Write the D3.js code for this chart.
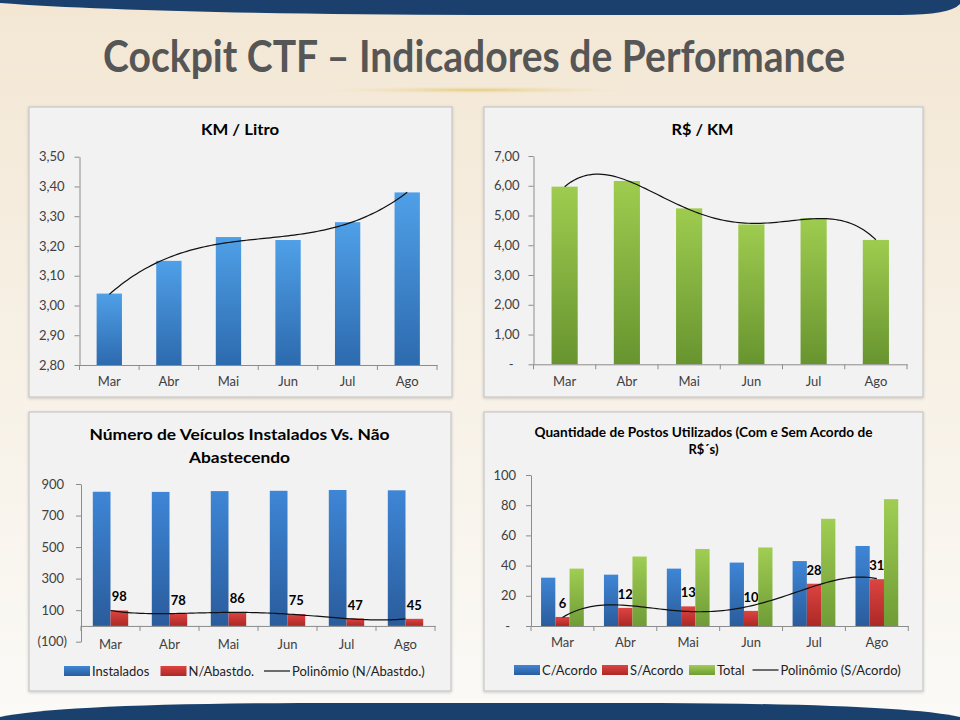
<!DOCTYPE html>
<html><head><meta charset="utf-8">
<script src="https://cdn.jsdelivr.net/npm/d3@7"></script>
<style>html,body{margin:0;padding:0;background:#f6efe2;} svg{display:block;} text{font-family:Lato,"Liberation Sans",sans-serif;}</style>
</head><body><svg id="c" width="960" height="720"></svg>
<script>
// ---------- DATA ----------
const months = ["Mar", "Abr", "Mai", "Jun", "Jul", "Ago"];
const kmLitro = [3.04, 3.15, 3.23, 3.22, 3.28, 3.38];
const rsKm = [5.97, 6.16, 5.24, 4.70, 4.91, 4.18];
const instalados = [851, 850, 855, 857, 862, 860];
const naoAbast = [98, 78, 86, 75, 47, 45];
const cAcordo = [32, 34, 38, 42, 43, 53];
const sAcordo = [6, 12, 13, 10, 28, 31];
const totalPostos = [38, 46, 51, 52, 71, 84];
const kmTicks = [2.8, 2.9, 3.0, 3.1, 3.2, 3.3, 3.4, 3.5];
const rsTicks = [0, 1, 2, 3, 4, 5, 6, 7];
const vehTicks = [-100, 100, 300, 500, 700, 900];
const postoTicks = [0, 20, 40, 60, 80, 100];

// ---------- SETUP ----------
const svg = d3.select("#c");
const defs = svg.append("defs");
function vgrad(id, top, bottom) {
  const g = defs.append("linearGradient").attr("id", id).attr("x1", 0).attr("y1", 0).attr("x2", 0).attr("y2", 1);
  g.append("stop").attr("offset", "0%").attr("stop-color", top);
  g.append("stop").attr("offset", "100%").attr("stop-color", bottom);
}
vgrad("bgG", "#f3e7d4", "#fbfaf7");
vgrad("blueA", "#4fa0e8", "#2d6aae");
vgrad("greenA", "#9ecc4f", "#68942f");
vgrad("blueB", "#3e86d6", "#2a5c9c");
vgrad("redB", "#dc4441", "#ad2826");
vgrad("greenB", "#a0cd52", "#6f9c36");
vgrad("navy", "#21507f", "#183a63");
const rg = defs.append("radialGradient").attr("id", "glow").attr("cx", "50%").attr("cy", "50%").attr("r", "50%");
rg.append("stop").attr("offset", "0%").attr("stop-color", "#e3c96f").attr("stop-opacity", 0.9);
rg.append("stop").attr("offset", "100%").attr("stop-color", "#f3e7d4").attr("stop-opacity", 0);
const sh = defs.append("filter").attr("id", "shadow").attr("x", "-5%").attr("y", "-5%").attr("width", "110%").attr("height", "110%");
sh.append("feDropShadow").attr("dx", 0).attr("dy", 1).attr("stdDeviation", 1.5).attr("flood-color", "#000").attr("flood-opacity", 0.18);

const ptBR = d3.formatLocale({decimal: ",", thousands: ".", grouping: [3], currency: ["R$ ", ""]});
const fmt2 = ptBR.format(",.2f");

// background
svg.append("rect").attr("width", 960).attr("height", 720).attr("fill", "url(#bgG)");
// top band
svg.append("path").attr("d", "M0,0 L960,0 L960,4 Q950,15 900,15 L480,15 Q150,14 0,3 Z").attr("fill", "#1b406d");
// bottom band
svg.append("path").attr("d", "M0,720 L0,717 Q60,704 300,703 L660,703 Q900,704 960,717 L960,720 Z").attr("fill", "#1a416e");
// title
svg.append("ellipse").attr("cx", 475).attr("cy", 90).attr("rx", 170).attr("ry", 4).attr("fill", "url(#glow)");
svg.append("text").attr("x", 474).attr("y", 72).attr("text-anchor", "middle")
  .attr("font-size", 44).attr("font-weight", 700).attr("fill", "#565656")
  .attr("textLength", 742).attr("lengthAdjust", "spacingAndGlyphs")
  .text("Cockpit CTF – Indicadores de Performance");

// panels
const panels = [[29, 107, 423, 290], [484, 107, 439, 290], [29, 412, 422, 279], [484, 412, 439, 279]];
svg.selectAll("rect.panel").data(panels).join("rect").attr("class", "panel")
  .attr("x", d => d[0]).attr("y", d => d[1]).attr("width", d => d[2]).attr("height", d => d[3])
  .attr("fill", "#f2f2f2").attr("stroke", "#c6c6c6").attr("stroke-width", 1.2).attr("filter", "url(#shadow)");

// polynomial least squares (Excel-like trendline)
function polyfit(ys, order) {
  const xs = ys.map((_, i) => i + 1);
  const n = order + 1;
  const A = Array.from({length: n}, () => new Array(n + 1).fill(0));
  for (let i = 0; i < n; i++) {
    for (let j = 0; j < n; j++) A[i][j] = d3.sum(xs, x => Math.pow(x, i + j));
    A[i][n] = d3.sum(xs, (x, k) => ys[k] * Math.pow(x, i));
  }
  for (let c = 0; c < n; c++) {
    let p = c;
    for (let r = c + 1; r < n; r++) if (Math.abs(A[r][c]) > Math.abs(A[p][c])) p = r;
    [A[c], A[p]] = [A[p], A[c]];
    for (let r = 0; r < n; r++) {
      if (r === c) continue;
      const f = A[r][c] / A[c][c];
      for (let k = c; k <= n; k++) A[r][k] -= f * A[c][k];
    }
  }
  const coef = A.map((row, i) => row[n] / row[i]);
  return x => coef.reduce((s, c, i) => s + c * Math.pow(x, i), 0);
}

function drawChart(o) {
  const g = svg.append("g");
  const x = d3.scaleBand().domain(months).range([o.x0, o.x1]);
  const y = d3.scaleLinear().domain(o.domain).range([o.yBottom, o.yTop]);
  const axisY = y(o.baseValue);
  // title
  o.title.forEach(t => {
    g.append("text").attr("x", t.x).attr("y", t.y).attr("text-anchor", "middle")
      .attr("font-size", t.size).attr("font-weight", 700).attr("fill", "#000")
      .attr("textLength", t.w).attr("lengthAdjust", "spacingAndGlyphs").text(t.text);
  });
  // bars
  const bw = x.bandwidth();
  const inner = d3.scaleBand().domain(d3.range(o.series.length)).range([-bw * o.groupFrac / 2, bw * o.groupFrac / 2]);
  o.series.forEach((s, si) => {
    g.append("g").selectAll("rect").data(s.values).join("rect")
      .attr("x", (d, i) => x(months[i]) + bw / 2 + inner(si))
      .attr("width", inner.bandwidth())
      .attr("y", d => Math.min(y(d), axisY))
      .attr("height", d => Math.abs(axisY - y(d)))
      .attr("fill", `url(#${s.grad})`);
    if (s.labels) {
      g.append("g").selectAll("text").data(s.values).join("text")
        .attr("x", (d, i) => x(months[i]) + bw / 2 + inner(si) + inner.bandwidth() / 2)
        .attr("y", d => y(d) - 9).attr("text-anchor", "middle")
        .attr("font-size", 13).attr("font-weight", 700).attr("fill", "#000").text(d => d);
    }
  });
  // trend line
  if (o.trend) {
    const f = polyfit(o.trend.values, o.trend.order);
    const tx = d3.scaleLinear().domain([1, 6]).range([x(months[0]) + bw / 2, x(months[5]) + bw / 2]);
    const pts = d3.range(1, 6.0001, 0.05).map(v => [tx(v), y(f(v))]);
    g.append("path").attr("d", d3.line().curve(d3.curveLinear)(pts))
      .attr("fill", "none").attr("stroke", "#111").attr("stroke-width", 1.2);
  }
  // y axis
  const ya = g.append("g").attr("transform", `translate(${o.x0},0)`)
    .call(d3.axisLeft(y).tickValues(o.ticks).tickSize(5).tickSizeOuter(0).tickPadding(o.yPad).tickFormat(o.fmt));
  ya.select(".domain").attr("stroke", "#8c8c8c");
  ya.selectAll(".tick line").attr("stroke", "#8c8c8c");
  ya.selectAll("text").attr("font-size", 13).attr("fill", "#404040").attr("font-family", "Lato")
    .attr("dx", d => o.shift ? o.shift(d) : 0);
  // x axis
  const xa = g.append("g").attr("transform", `translate(0,${axisY})`)
    .call(d3.axisBottom(x).tickSize(0).tickSizeOuter(0).tickPadding(o.xPad));
  xa.select(".domain").attr("stroke", "#8c8c8c");
  xa.selectAll("text").attr("font-size", 13).attr("fill", "#404040").attr("font-family", "Lato");
  const bounds = months.map(m => x(m)).concat([o.x1]);
  g.append("g").selectAll("line").data(bounds).join("line")
    .attr("x1", d => d).attr("x2", d => d).attr("y1", axisY).attr("y2", axisY + 5)
    .attr("stroke", "#8c8c8c");
  // legend
  if (o.legend) {
    const lg = g.append("g");
    o.legend.forEach(l => {
      if (l.grad) lg.append("rect").attr("x", l.x).attr("y", o.legendY - 5).attr("width", 26).attr("height", 10).attr("fill", `url(#${l.grad})`);
      else lg.append("line").attr("x1", l.x).attr("x2", l.x + 26).attr("y1", o.legendY).attr("y2", o.legendY).attr("stroke", "#111").attr("stroke-width", 1.2);
      lg.append("text").attr("x", l.x + 28).attr("y", o.legendY).attr("dy", "0.35em")
        .attr("font-size", 13).attr("fill", "#222").text(l.text);
    });
  }
}

drawChart({
  x0: 79.5, x1: 437, yTop: 156.7, yBottom: 365, domain: [2.8, 3.5], baseValue: 2.8,
  ticks: kmTicks, fmt: fmt2, yPad: 10, xPad: 12, groupFrac: 0.425,
  title: [{text: "KM / Litro", x: 240, y: 135, size: 16, w: 78}],
  series: [{values: kmLitro, grad: "blueA"}],
  trend: {values: kmLitro, order: 3}
});
drawChart({
  x0: 533.5, x1: 907, yTop: 156, yBottom: 364.3, domain: [0, 7], baseValue: 0,
  ticks: rsTicks, fmt: d => d === 0 ? "-" : fmt2(d), shift: d => d === 0 ? -6 : 0, yPad: 9, xPad: 12, groupFrac: 0.42,
  title: [{text: "R$ / KM", x: 702.5, y: 135, size: 16, w: 62}],
  series: [{values: rsKm, grad: "greenA"}],
  trend: {values: rsKm, order: 4}
});
drawChart({
  x0: 81, x1: 435, yTop: 484, yBottom: 641.7, domain: [-100, 900], baseValue: 0,
  ticks: vehTicks, fmt: d => d < 0 ? `(${Math.abs(d)})` : String(d), shift: d => d < 0 ? 3 : 0, yPad: 12, xPad: 13.5, groupFrac: 0.6,
  title: [{text: "Número de Veículos Instalados Vs. Não", x: 239.5, y: 440, size: 16, w: 300},
          {text: "Abastecendo", x: 239.5, y: 463, size: 16, w: 101}],
  series: [{values: instalados, grad: "blueB"}, {values: naoAbast, grad: "redB", labels: true}],
  trend: {values: naoAbast, order: 4},
  legendY: 671,
  legend: [{x: 64, grad: "blueB", text: "Instalados"}, {x: 160.5, grad: "redB", text: "N/Abastdo."}, {x: 264, text: "Polinômio (N/Abastdo.)"}]
});
drawChart({
  x0: 531, x1: 908.3, yTop: 475, yBottom: 626, domain: [0, 100], baseValue: 0,
  ticks: postoTicks, fmt: d => d === 0 ? "-" : String(d), shift: d => d === 0 ? -6 : 0, yPad: 10, xPad: 12, groupFrac: 0.68,
  title: [{text: "Quantidade de Postos Utilizados (Com e Sem Acordo de", x: 703.5, y: 437, size: 14, w: 338},
          {text: "R$´s)", x: 703.5, y: 454, size: 14, w: 30}],
  series: [{values: cAcordo, grad: "blueB"}, {values: sAcordo, grad: "redB", labels: true}, {values: totalPostos, grad: "greenB"}],
  trend: {values: sAcordo, order: 4},
  legendY: 670,
  legend: [{x: 514, grad: "blueB", text: "C/Acordo"}, {x: 602, grad: "redB", text: "S/Acordo"}, {x: 689, grad: "greenB", text: "Total"}, {x: 752.5, text: "Polinômio (S/Acordo)"}]
});
</script>
</body></html>
